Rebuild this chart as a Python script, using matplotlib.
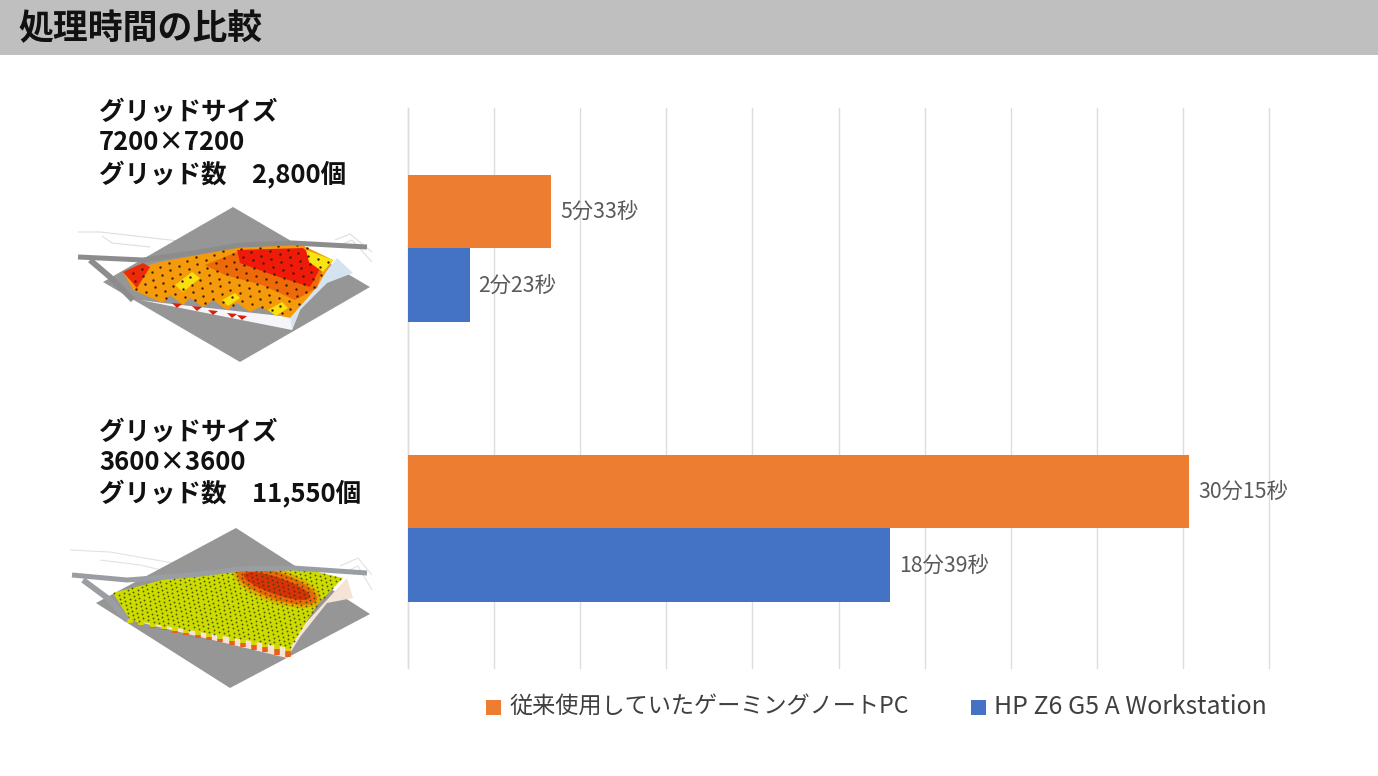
import numpy as np
import matplotlib
matplotlib.use("Agg")
import matplotlib.pyplot as plt
from matplotlib.patches import Polygon, Ellipse, Rectangle
from matplotlib.path import Path

plt.rcParams['font.family'] = ['Noto Sans CJK JP', 'DejaVu Sans']

# chart data, seconds
groups = ["7200x7200", "3600x3600"]
old_pc = [333, 1815]
workstation = [143, 1119]
old_labels = ["5分33秒", "30分15秒"]
ws_labels = ["2分23秒", "18分39秒"]
series_names = ["従来使用していたゲーミングノートPC", "HP Z6 G5 A Workstation"]
xticks = np.arange(0, 2001, 200)

title = "処理時間の比較"
captions = [["グリッドサイズ", "7200×7200", "グリッド数　2,800個"],
            ["グリッドサイズ", "3600×3600", "グリッド数　11,550個"]]

ORANGE = "#ED7D31"
BLUE = "#4472C4"

fig = plt.figure(figsize=(13.78, 7.76), dpi=100)

# page layer in pixel coordinates, for header, captions and the thumbnails
page = fig.add_axes([0, 0, 1, 1], zorder=0)
page.set_xlim(0, 1378)
page.set_ylim(776, 0)
page.axis("off")

page.add_patch(Rectangle((0, 0), 1378, 55, color="#BFBFBF", lw=0))
page.text(18, 29, title, fontsize=25.1, fontweight="bold", va="center", color="#111111")

for lines, ys in zip(captions, [(112, 143, 175), (432, 463, 494)]):
    for text_line, y_pos in zip(lines, ys):
        page.text(99, y_pos, text_line, fontsize=18.4, fontweight="bold", va="center", color="#111111")


def iso_grid(poly, origin, step_u, step_v, n=60):
    # points of a skewed grid that fall inside the polygon
    i, j = np.meshgrid(np.arange(-n, n), np.arange(-n, n))
    x = origin[0] + i * step_u[0] + j * step_v[0]
    y = origin[1] + i * step_u[1] + j * step_v[1]
    pts = np.c_[x.ravel(), y.ravel()]
    return pts[Path(poly).contains_points(pts)]


def line(pts, color, lw, z):
    pts = np.array(pts, dtype=float)
    page.plot(pts[:, 0], pts[:, 1], color=color, lw=lw, solid_capstyle="butt", zorder=z)


def thumb_one():
    for pale in [[(78, 232), (100, 232), (170, 240), (222, 246)], [(102, 236), (112, 243), (150, 247)],
                 [(335, 240), (350, 234), (372, 252)], [(340, 245), (352, 240), (372, 262)]]:
        line(pale, "#DEDEDE", 0.8, 0.8)
    page.add_patch(Polygon([(233, 207), (370, 287), (240, 362), (103, 282)], color="#969696", lw=0, zorder=1))
    page.add_patch(Polygon([(140, 300), (163, 303), (290, 317), (300, 310), (292, 330)],
                           color="#F6F6FA", lw=0, zorder=2))
    page.add_patch(Polygon([(292, 330), (300, 310), (327, 283), (353, 273), (337, 258), (315, 285), (290, 317)],
                           color="#D5E3F0", lw=0, zorder=2))
    surface = [(123, 272), (160, 262), (240, 247), (300, 244), (333, 260), (317, 287), (290, 318),
               (277, 315), (260, 307), (250, 312), (237, 303), (227, 310), (213, 300), (203, 307),
               (190, 298), (183, 305), (170, 295), (163, 303), (133, 290)]
    page.add_patch(Polygon(surface, color="#F59A0A", lw=0, zorder=3))
    for x0, y0 in [(177, 305), (197, 308), (213, 312), (232, 315), (242, 317)]:
        page.add_patch(Polygon([(x0 - 5, y0 - 2), (x0 + 5, y0 - 1), (x0, y0 + 3)], color="#D8200A", lw=0, zorder=2.5))
    regions = [([(205, 265), (237, 252), (303, 250), (323, 267), (317, 288), (295, 300), (262, 285), (225, 275)], "#EE6A08"),
               ([(237, 250), (303, 248), (322, 265), (310, 287), (273, 275), (240, 263)], "#F01A0A"),
               ([(306, 250), (333, 260), (323, 272), (309, 262)], "#F8E410"),
               ([(123, 272), (143, 263), (150, 267), (137, 288)], "#EE2A0A"),
               ([(175, 285), (192, 272), (200, 278), (183, 292)], "#F8E010"),
               ([(222, 300), (235, 293), (240, 298), (228, 306)], "#F8E010"),
               ([(268, 310), (282, 302), (288, 308), (276, 316)], "#F8E010")]
    for pts, c in regions:
        page.add_patch(Polygon(pts, color=c, lw=0, zorder=3.1))
    dots = iso_grid(surface, (200, 280), (10, 3.2), (8.5, -4.6))
    page.scatter(dots[:, 0], dots[:, 1], s=3, color="#3A2000", lw=0, zorder=3.3)
    line([(78, 257), (143, 260), (193, 253), (240, 245), (293, 243), (367, 247)], "#8C8C8C", 3.6, 4)
    line([(90, 260), (110, 277), (133, 300)], "#8C8C8C", 4.2, 4)


def thumb_two():
    for pale in [[(70, 550), (110, 552), (190, 566)], [(100, 560), (140, 565), (170, 572)],
                 [(340, 566), (358, 558), (372, 575)], [(345, 572), (358, 566), (372, 590)]]:
        line(pale, "#E2E2E2", 0.8, 0.8)
    page.add_patch(Polygon([(236, 528), (370, 614), (230, 688), (96, 603)], color="#969696", lw=0, zorder=1))
    page.add_patch(Polygon([(130, 620), (287, 658), (300, 637), (327, 603), (353, 598), (347, 578), (290, 640)],
                           color="#F5E3D5", lw=0, zorder=2))
    surface = [(113, 593), (170, 578), (237, 570), (300, 568), (343, 578), (317, 605), (290, 648), (200, 632), (130, 620)]
    clip = Polygon(surface, color="#CCDC00", lw=0, zorder=3)
    page.add_patch(clip)
    for w, h, c in [(92, 34, "#DDB000"), (84, 27, "#E86A08"), (70, 17, "#D83208")]:
        blob = Ellipse((277, 586), w, h, angle=19, color=c, lw=0, zorder=3.1)
        page.add_patch(blob)
        blob.set_clip_path(clip)
    dots = iso_grid(surface, (200, 610), (5.2, 1.7), (4.4, -2.4), n=90)
    page.scatter(dots[:, 0], dots[:, 1], s=1.8, color="#3E3E00", lw=0, alpha=0.85, zorder=3.3)
    # hanging columns along the front edge
    for t in np.arange(0, 1.0001, 1 / 14):
        x0, y0 = 130 + t * 158, 620 + t * 28
        line([(x0, y0 - 1), (x0, y0 + 3)], "#D6D800", 4, 2.9)
        line([(x0, y0 + 3), (x0, y0 + 3 + 6 * t)], "#E8601A", 4, 2.9)
    line([(72, 575), (127, 580), (193, 575), (240, 569), (293, 568), (367, 573)], "#9A9EA3", 3.6, 4)
    line([(83, 580), (110, 600), (127, 620)], "#9A9EA3", 4.2, 4)


thumb_one()
thumb_two()

# bar chart
ax = fig.add_axes([408 / 1378, (776 - 668) / 776, 861 / 1378, 560 / 776], zorder=2)
ax.patch.set_alpha(0)
y = np.arange(len(groups))
h = 0.2625
bars_old = ax.barh(y - h / 2, old_pc, h, color=ORANGE, label=series_names[0], zorder=3)
bars_ws = ax.barh(y + h / 2, workstation, h, color=BLUE, label=series_names[1], zorder=3)
for bars, labels in [(bars_old, old_labels), (bars_ws, ws_labels)]:
    for ann in ax.bar_label(bars, labels=labels, padding=6.5, fontsize=15.3, color="#595959"):
        ann.xyann = (ann.xyann[0], -1.4)

ax.set_xlim(0, 2000)
ax.set_ylim(1.5, -0.5)
ax.set_xticks(xticks)
ax.set_yticks([])
ax.tick_params(axis="x", length=0, labelbottom=False)
ax.grid(axis="x", color="#DDDDDD", lw=1.0, zorder=0, clip_on=False)
for s in ["top", "right", "bottom"]:
    ax.spines[s].set_visible(False)
ax.spines["left"].set_color("#DDDDDD")
ax.spines["left"].set_linewidth(1.0)

leg = fig.legend(loc="center", bbox_to_anchor=(876.5 / 1378, 1 - 707 / 776), ncol=2, frameon=False,
                 fontsize=16.7, labelcolor="#404040", handlelength=0.65, handleheight=0.65,
                 handletextpad=0.35, columnspacing=2.7)
leg.get_texts()[1].set_fontsize(17.9)
for p in leg.get_patches():
    p.set_y(p.get_y() - 1)

fig.savefig("out.png", dpi=100)
